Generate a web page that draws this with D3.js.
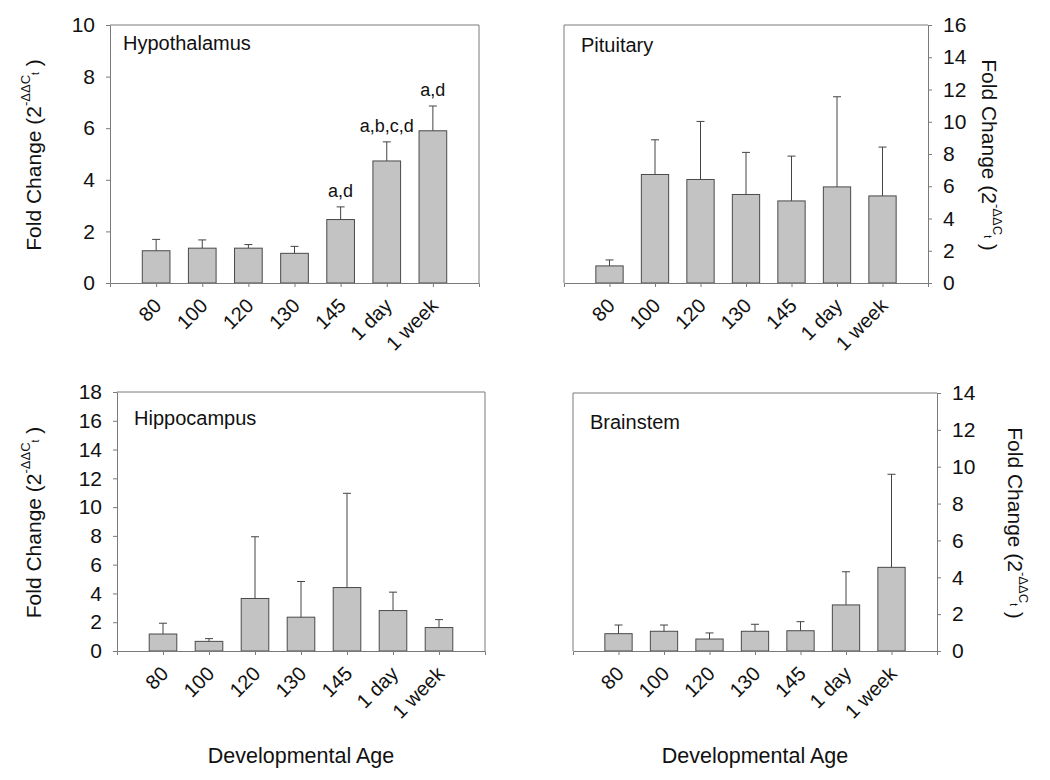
<!DOCTYPE html>
<html><head><meta charset="utf-8">
<script src="https://cdn.jsdelivr.net/npm/d3@7"></script>
<style>
body{margin:0;background:#fff}
text{font-family:"Liberation Sans",Arial,Helvetica,sans-serif;fill:#111}
</style>
</head><body>
<svg id="chart" width="1050" height="780"></svg>
<script>
// ---------- data ----------
const categories = ["80", "100", "120", "130", "145", "1 day", "1 week"];

const hypoMean = [1.25, 1.35, 1.35, 1.15, 2.46, 4.73, 5.90];
const hypoSE   = [0.44, 0.32, 0.14, 0.27, 0.49, 0.74, 0.96];
const hypoLetters = ["", "", "", "", "a,d", "a,b,c,d", "a,d"];
const hypoTicks = [0, 2, 4, 6, 8, 10];

const pitMean = [1.06, 6.73, 6.42, 5.49, 5.09, 5.96, 5.40];
const pitSE   = [0.37, 2.15, 3.60, 2.61, 2.78, 5.59, 3.03];
const pitTicks = [0, 2, 4, 6, 8, 10, 12, 14, 16];

const hipMean = [1.18, 0.67, 3.65, 2.35, 4.41, 2.81, 1.63];
const hipSE   = [0.75, 0.19, 4.29, 2.48, 6.55, 1.28, 0.55];
const hipTicks = [0, 2, 4, 6, 8, 10, 12, 14, 16, 18];

const bsMean = [0.94, 1.07, 0.65, 1.07, 1.10, 2.50, 4.54];
const bsSE   = [0.47, 0.34, 0.33, 0.38, 0.49, 1.80, 5.05];
const bsTicks = [0, 2, 4, 6, 8, 10, 12, 14];

const panelNames = ["Hypothalamus", "Pituitary", "Hippocampus", "Brainstem"];
const xAxisTitle = "Developmental Age";

// ---------- layout ----------
const panels = [
  {name: panelNames[0], mean: hypoMean, se: hypoSE, letters: hypoLetters, ticks: hypoTicks,
   side: "left", x0: 110, y0: 25, x1: 479, y1: 283, nameDx: 13, nameDy: 25, titleX: 33, xTitle: false},
  {name: panelNames[1], mean: pitMean, se: pitSE, letters: null, ticks: pitTicks,
   side: "right", x0: 564, y0: 25, x1: 928, y1: 283, nameDx: 17, nameDy: 27, titleX: 990, xTitle: false},
  {name: panelNames[2], mean: hipMean, se: hipSE, letters: null, ticks: hipTicks,
   side: "left", x0: 117, y0: 392, x1: 485, y1: 651, nameDx: 17, nameDy: 33, titleX: 33, xTitle: true},
  {name: panelNames[3], mean: bsMean, se: bsSE, letters: null, ticks: bsTicks,
   side: "right", x0: 573, y0: 393, x1: 937, y1: 651, nameDx: 17, nameDy: 36, titleX: 1016, xTitle: true}
];

const axisColor = "#7a7a7a";
const barFill = "#c3c3c3";
const barStroke = "#4a4a4a";

const svg = d3.select("#chart");

panels.forEach(p => {
  const g = svg.append("g");
  const x = d3.scalePoint().domain(categories).range([p.x0, p.x1]).padding(1);
  const y = d3.scaleLinear().domain([0, d3.max(p.ticks)]).range([p.y1, p.y0]);
  const bw = x.step() * 0.6;

  // frame (top and opposite side)
  g.append("path")
    .attr("d", p.side === "left"
      ? `M${p.x0},${p.y0}H${p.x1}V${p.y1}`
      : `M${p.x1},${p.y0}H${p.x0}V${p.y1}`)
    .attr("fill", "none").attr("stroke", axisColor).attr("stroke-width", 1);

  // bars
  g.selectAll("rect.bar").data(p.mean).join("rect")
    .attr("class", "bar")
    .attr("x", (d, i) => x(categories[i]) - bw / 2)
    .attr("y", d => y(d))
    .attr("width", bw)
    .attr("height", d => y(0) - y(d))
    .attr("fill", barFill).attr("stroke", barStroke).attr("stroke-width", 1);

  // error bars (upper only)
  const eb = g.selectAll("g.err").data(p.mean).join("g").attr("class", "err");
  eb.append("line")
    .attr("x1", (d, i) => x(categories[i])).attr("x2", (d, i) => x(categories[i]))
    .attr("y1", d => y(d)).attr("y2", (d, i) => y(d + p.se[i]))
    .attr("stroke", "#444").attr("stroke-width", 1);
  eb.append("line")
    .attr("x1", (d, i) => x(categories[i]) - 4).attr("x2", (d, i) => x(categories[i]) + 4)
    .attr("y1", (d, i) => y(d + p.se[i])).attr("y2", (d, i) => y(d + p.se[i]))
    .attr("stroke", "#444").attr("stroke-width", 1);

  // significance letters
  if (p.letters) {
    g.selectAll("text.sig").data(p.letters).join("text")
      .attr("class", "sig")
      .attr("x", (d, i) => x(categories[i]))
      .attr("y", (d, i) => y(p.mean[i] + p.se[i]) - 10)
      .attr("text-anchor", "middle")
      .attr("font-size", 18)
      .text(d => d);
  }

  // x axis
  const xa = g.append("g").attr("transform", `translate(0,${p.y1})`)
    .call(d3.axisBottom(x).tickSize(4).tickSizeOuter(4));
  xa.selectAll("path, line").attr("stroke", axisColor);
  xa.selectAll("text")
    .attr("font-size", 20)
    .attr("text-anchor", "end")
    .attr("x", 0).attr("y", 0).attr("dy", 0)
    .attr("transform", "translate(6,24) rotate(-45)")
    .attr("fill", "#111");

  // y axis
  const axisGen = (p.side === "left" ? d3.axisLeft(y) : d3.axisRight(y))
    .tickValues(p.ticks).tickFormat(d3.format("d")).tickSize(4).tickSizeOuter(0).tickPadding(11);
  const ya = g.append("g").attr("transform", `translate(${p.side === "left" ? p.x0 : p.x1},0)`)
    .call(axisGen);
  ya.selectAll("path, line").attr("stroke", axisColor);
  ya.selectAll("text").attr("font-size", 21).attr("fill", "#111");

  // panel name
  g.append("text")
    .attr("x", p.x0 + p.nameDx).attr("y", p.y0 + p.nameDy)
    .attr("font-size", 20)
    .text(p.name);

  // y axis title
  const cy = (p.y0 + p.y1) / 2 + 1;
  const rot = p.side === "left" ? -90 : 90;
  const t = g.append("text")
    .attr("transform", `translate(${p.titleX},${cy}) rotate(${rot})`)
    .attr("text-anchor", "middle")
    .attr("dominant-baseline", "central")
    .attr("font-size", 21);
  t.append("tspan").text("Fold Change (2");
  t.append("tspan").attr("font-size", 13).attr("dy", -8).text("-ΔΔC");
  t.append("tspan").attr("font-size", 10).attr("dy", 10).text("t");
  t.append("tspan").attr("dy", -2).text(" )");

  // x axis title
  if (p.xTitle) {
    g.append("text")
      .attr("x", (p.x0 + p.x1) / 2).attr("y", 763)
      .attr("text-anchor", "middle")
      .attr("font-size", 21.5)
      .text(xAxisTitle);
  }
});
</script>
</body></html>
